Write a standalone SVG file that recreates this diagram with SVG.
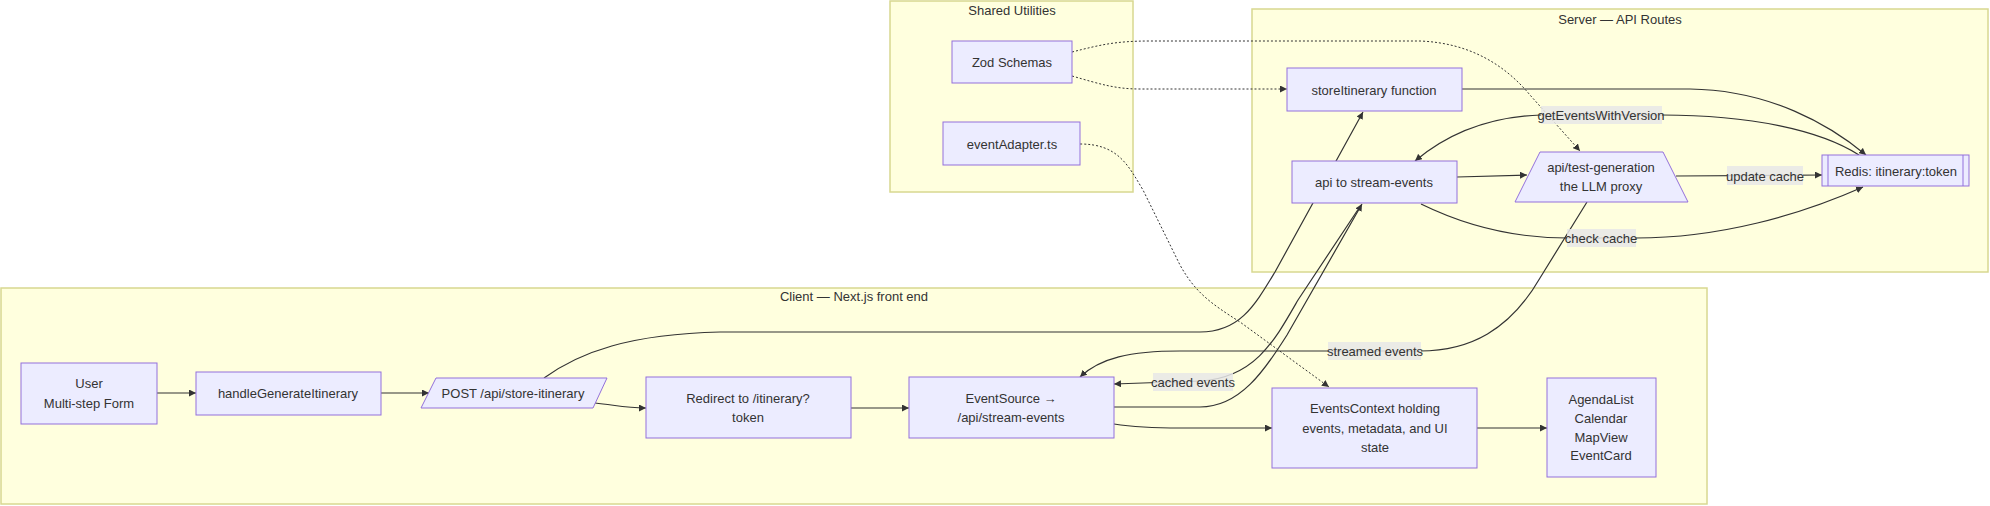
<svg xmlns="http://www.w3.org/2000/svg" width="1990" height="506" viewBox="0 0 1990 506">
<defs>
<style>
.cl{fill:#ffffde;stroke:#d8d890;stroke-width:1.5}
.nd{fill:#ececff;stroke:#9370db;stroke-width:1}
.t{font-family:"Liberation Sans",Arial,sans-serif;font-size:13px;fill:#333;text-anchor:middle;dominant-baseline:central}
.e{fill:none;stroke:#333;stroke-width:1.2}
.d{fill:none;stroke:#333;stroke-width:1;stroke-dasharray:2 2}
.lb{fill:#e8e8e8;fill-opacity:0.85}
</style>
<marker id="ah" viewBox="0 0 10 10" refX="10" refY="5" markerWidth="7" markerHeight="7" markerUnits="userSpaceOnUse" orient="auto">
<path d="M0,0 L10,5 L0,10 z" fill="#333"/>
</marker>
</defs>
<rect width="1990" height="506" fill="#fff"/>
<g id="clusters">
<g id="shared"><rect class="cl" x="890" y="1" width="243" height="191"/><text class="t" x="1012" y="10">Shared Utilities</text></g>
<g id="server"><rect class="cl" x="1252" y="9" width="736" height="263"/><text class="t" x="1620" y="19">Server — API Routes</text></g>
<g id="client"><rect class="cl" x="1" y="288" width="1706" height="216"/><text class="t" x="854" y="296">Client — Next.js front end</text></g>
</g>
<g id="connectors">
<path class="e" marker-end="url(#ah)" d="M157,393 L196,393"/>
<path class="e" marker-end="url(#ah)" d="M381,393 L429,393"/>
<path class="e" marker-end="url(#ah)" d="M544,378 C580,352 630,334 720,332 L1200,332 C1240,332 1255,305 1275,272 L1363,112"/>
<path class="e" marker-end="url(#ah)" d="M595,403 C615,405 625,408 646,408"/>
<path class="e" marker-end="url(#ah)" d="M851,408 L909,408"/>
<path class="e" marker-end="url(#ah)" d="M1114,407 L1200,407 C1240,407 1265,370 1287,335 L1362,204"/>
<path class="e" marker-end="url(#ah)" d="M1361,205 L1298,300 C1275,340 1255,378 1200,381 L1114,384"/>
<path class="e" marker-end="url(#ah)" d="M1457,177 L1527,175"/>
<path class="e" marker-end="url(#ah)" d="M1587,202 L1540,278 C1510,330 1470,351 1420,351 L1180,351 C1130,351 1100,358 1080,377"/>
<path class="e" marker-end="url(#ah)" d="M1676,176 L1822,175"/>
<path class="e" marker-end="url(#ah)" d="M1421,204 C1470,228 1520,238 1567,238 L1636,238 C1720,238 1800,215 1863,187"/>
<path class="e" marker-end="url(#ah)" d="M1462,89 L1690,89 C1770,90 1830,125 1866,155"/>
<path class="e" marker-end="url(#ah)" d="M1859,155 C1820,130 1750,115 1662,115 L1541,115 C1480,117 1440,140 1415,161"/>
<path class="e" marker-end="url(#ah)" d="M1114,424 C1140,428 1160,428 1180,428 L1272,428"/>
<path class="e" marker-end="url(#ah)" d="M1477,428 L1547,428"/>
<path class="d" marker-end="url(#ah)" d="M1072,76 C1100,84 1115,89 1140,89 L1287,89"/>
<path class="d" marker-end="url(#ah)" d="M1072,52 C1100,45 1115,41 1150,41 L1420,41 C1470,43 1505,65 1530,95 L1580,151"/>
<path class="d" marker-end="url(#ah)" d="M1080,144 C1118,144 1128,165 1143,190 L1180,265 C1195,292 1210,303 1240,322 L1329,387"/>
</g>
<g id="n-user"><rect class="nd" x="21" y="363" width="136" height="61"/><text class="t" x="89" y="383">User</text><text class="t" x="89" y="403">Multi-step Form</text></g>
<g id="n-handle"><rect class="nd" x="196" y="372" width="185" height="43"/><text class="t" x="288" y="393">handleGenerateItinerary</text></g>
<g id="n-post"><polygon class="nd" points="436,378 607,378 593,408 421,408"/><text class="t" x="513" y="393">POST /api/store-itinerary</text></g>
<g id="n-redirect"><rect class="nd" x="646" y="377" width="205" height="61"/><text class="t" x="748" y="398">Redirect to /itinerary?</text><text class="t" x="748" y="417">token</text></g>
<g id="n-eventsource"><rect class="nd" x="909" y="377" width="205" height="61"/><text class="t" x="1011" y="398">EventSource →</text><text class="t" x="1011" y="417">/api/stream-events</text></g>
<g id="n-context"><rect class="nd" x="1272" y="388" width="205" height="80"/><text class="t" x="1375" y="408">EventsContext holding</text><text class="t" x="1375" y="428">events, metadata, and UI</text><text class="t" x="1375" y="447">state</text></g>
<g id="n-agenda"><rect class="nd" x="1547" y="378" width="109" height="99"/><text class="t" x="1601" y="399">AgendaList</text><text class="t" x="1601" y="418">Calendar</text><text class="t" x="1601" y="437">MapView</text><text class="t" x="1601" y="455">EventCard</text></g>
<g id="n-zod"><rect class="nd" x="952" y="41" width="120" height="42"/><text class="t" x="1012" y="62">Zod Schemas</text></g>
<g id="n-adapter"><rect class="nd" x="943" y="122" width="137" height="43"/><text class="t" x="1012" y="144">eventAdapter.ts</text></g>
<g id="n-store"><rect class="nd" x="1287" y="68" width="175" height="43"/><text class="t" x="1374" y="90">storeItinerary function</text></g>
<g id="n-stream"><rect class="nd" x="1292" y="161" width="165" height="42"/><text class="t" x="1374" y="182">api to stream-events</text></g>
<g id="n-testgen"><polygon class="nd" points="1540,152 1663,152 1688,202 1515,202"/><text class="t" x="1601" y="167">api/test-generation</text><text class="t" x="1601" y="186">the LLM proxy</text></g>
<g id="n-redis"><rect class="nd" x="1822" y="155" width="147" height="31"/><line class="nd" x1="1828" y1="155" x2="1828" y2="186"/><line class="nd" x1="1963" y1="155" x2="1963" y2="186"/><text class="t" x="1896" y="171">Redis: itinerary:token</text></g>
<g id="edge-labels">
<rect class="lb" x="1541" y="106" width="121" height="18"/><text class="t" x="1601" y="115">getEventsWithVersion</text>
<rect class="lb" x="1727" y="166" width="76" height="19"/><text class="t" x="1765" y="176">update cache</text>
<rect class="lb" x="1567" y="229" width="69" height="18"/><text class="t" x="1601" y="238">check cache</text>
<rect class="lb" x="1153" y="373" width="80" height="18"/><text class="t" x="1193" y="382">cached events</text>
<rect class="lb" x="1328" y="342" width="93" height="18"/><text class="t" x="1375" y="351">streamed events</text>
</g>
</svg>
